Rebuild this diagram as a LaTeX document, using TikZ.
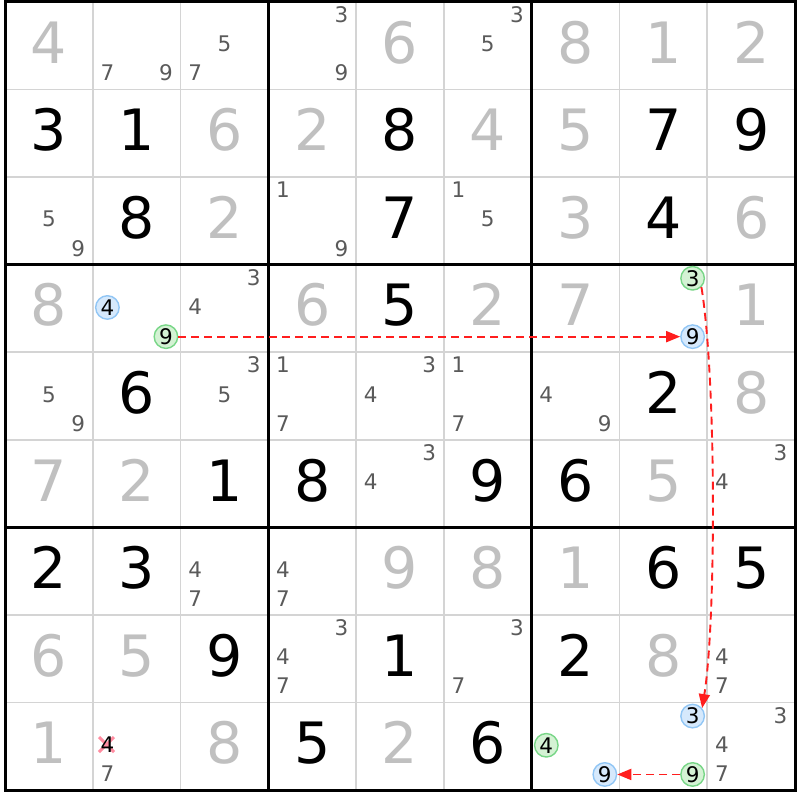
\documentclass[tikz,border=0pt]{standalone}
\usepackage{fontspec}
\setmainfont{DejaVu Sans}
\usetikzlibrary{arrows.meta}
\definecolor{solvedc}{RGB}{192,192,192}
\definecolor{candc}{RGB}{90,90,90}
\definecolor{gridc}{RGB}{212,212,212}
\definecolor{bluefill}{RGB}{214,233,252}
\definecolor{bluedraw}{RGB}{145,198,245}
\definecolor{greenfill}{RGB}{212,242,212}
\definecolor{greendraw}{RGB}{120,214,135}
\definecolor{linkred}{RGB}{255,30,30}
\definecolor{crossc}{RGB}{255,140,160}
\tikzset{
  big/.style={anchor=base, font=\fontsize{57}{57}\selectfont, inner sep=0pt},
  given/.style={big, text=black},
  solved/.style={big, text=solvedc},
  cand/.style={anchor=base, font=\fontsize{21.5}{21.5}\selectfont, text=candc, inner sep=0pt},
  hl/.style={circle, line width=1.4pt, minimum size=23.5pt, inner sep=0pt, font=\fontsize{21.5}{21.5}\selectfont, text=black},
  hlblue/.style={hl, draw=bluedraw, fill=bluefill},
  hlgreen/.style={hl, draw=greendraw, fill=greenfill},
  link/.style={draw=linkred, line width=1.9pt, dash pattern=on 8pt off 5pt, -{Triangle[length=14pt,width=11pt,fill=linkred]}},
  thin/.style={draw=gridc, line width=1.8pt},
  thick/.style={draw=black, line width=3pt},
}
\begin{document}
\begin{tikzpicture}[x=1pt,y=-1pt]
\useasboundingbox (0,0) rectangle (800,800);
\fill[white] (0,0) rectangle (800,800);
% thin grid
\foreach \i in {1,2,4,5,7,8}{
  \draw[thin] ({5+87.78*\i},2) -- ({5+87.78*\i},790);
  \draw[thin] (5,{2+87.56*\i}) -- (795,{2+87.56*\i});
}
% thick grid
\foreach \i in {0,3,6,9}{
  \draw[thick] ({5+87.78*\i},2) -- ({5+87.78*\i},790);
  \draw[thick] (5,{2+87.56*\i}) -- (795,{2+87.56*\i});
}
\draw[thick] (5,2) rectangle (795,790);
% givens
\foreach \r/\c/\d in {2/1/3,2/2/1,2/5/8,2/8/7,2/9/9,
  3/2/8,3/5/7,3/8/4, 4/5/5, 5/2/6,5/8/2,
  6/3/1,6/4/8,6/6/9,6/7/6, 7/1/2,7/2/3,7/8/6,7/9/5,
  8/3/9,8/5/1,8/7/2, 9/4/5,9/6/6}
  \node[given] (g-\r-\c) at ({5+87.78*(\c-0.5)}, {2+87.56*(\r-0.5)+17.5}) {\d};
% solved
\foreach \r/\c/\d in {1/1/4,1/5/6,1/7/8,1/8/1,1/9/2,
  2/3/6,2/4/2,2/6/4,2/7/5, 3/3/2,3/7/3,3/9/6,
  4/1/8,4/4/6,4/6/2,4/7/7,4/9/1, 5/9/8, 6/1/7,6/2/2,6/8/5,
  7/5/9,7/6/8,7/7/1, 8/1/6,8/2/5,8/8/8, 9/1/1,9/3/8,9/5/2}
  \node[solved] (s-\r-\c) at ({5+87.78*(\c-0.5)}, {2+87.56*(\r-0.5)+17.5}) {\d};
% cross behind struck candidate (r9c2, digit 4)
\draw[crossc, line width=3pt] (99,737) -- (114,752);
\draw[crossc, line width=3pt] (99,752) -- (114,737);
\node[cand, text=black] (x-9-2-4) at ({5+87.78*1+29.26*0.5}, {2+87.56*8+29.19*1.5+6}) {4};
% candidates
\foreach \r/\c/\d in {1/2/7,1/2/9,1/3/5,1/3/7,1/4/3,1/4/9,1/6/3,1/6/5,
  3/1/5,3/1/9,3/4/1,3/4/9,3/6/1,3/6/5,
  4/3/3,4/3/4,
  5/1/5,5/1/9,5/3/3,5/3/5,5/4/1,5/4/7,5/5/3,5/5/4,5/6/1,5/6/7,5/7/4,5/7/9,
  6/5/3,6/5/4,6/9/3,6/9/4,
  7/3/4,7/3/7,7/4/4,7/4/7,
  8/4/3,8/4/4,8/4/7,8/6/3,8/6/7,8/9/4,8/9/7,
  9/2/7,9/9/3,9/9/4,9/9/7}
  \node[cand] (k-\r-\c-\d) at ({5+87.78*(\c-1)+29.26*(mod(\d-1,3)+0.5)}, {2+87.56*(\r-1)+29.19*(floor((\d-1)/3)+0.5)+6}) {\d};
% highlighted candidates
\foreach \r/\c/\d/\s/\n in {4/2/4/hlblue/ca, 4/2/9/hlgreen/ga, 4/8/9/hlblue/ba,
  4/8/3/hlgreen/gb, 9/8/3/hlblue/bb, 9/8/9/hlgreen/gc, 9/7/4/hlgreen/gd, 9/7/9/hlblue/bc}
  \node[\s] (\n) at ({5+87.78*(\c-1)+29.26*(mod(\d-1,3)+0.5)}, {2+87.56*(\r-1)+29.19*(floor((\d-1)/3)+0.5)-1}) {\d};
% links
\draw[link] (ga.east) -- (ba.west);
\draw[link] (gb.-45) .. controls +(15,91) and +(14,-87) .. (bb.40);
\draw[link] (gc.west) -- (bc.east);
\end{tikzpicture}
\end{document}
